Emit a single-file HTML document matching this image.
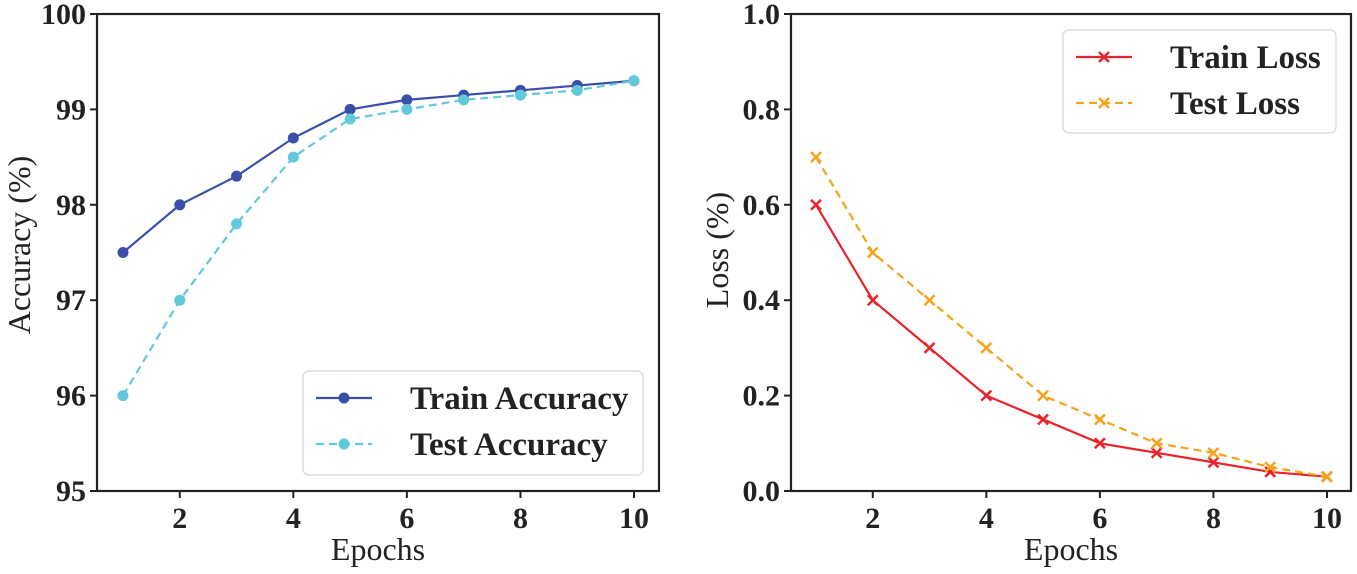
<!DOCTYPE html>
<html><head><meta charset="utf-8">
<style>
html,body{margin:0;padding:0;background:#fff;}
svg text{font-family:"Liberation Serif",serif;fill:#222;}
</style></head>
<body>
<svg id="chart" width="1357" height="569" viewBox="0 0 1357 569" xmlns="http://www.w3.org/2000/svg"></svg>
<script>
const epochs = [1,2,3,4,5,6,7,8,9,10];
const trainAcc = [97.5,98,98.3,98.7,99,99.1,99.15,99.2,99.25,99.3];
const testAcc = [96,97,97.8,98.5,98.9,99,99.1,99.15,99.2,99.3];
const trainLoss = [0.6,0.4,0.3,0.2,0.15,0.1,0.08,0.06,0.04,0.03];
const testLoss = [0.7,0.5,0.4,0.3,0.2,0.15,0.1,0.08,0.05,0.03];
const xTicks = [2,4,6,8,10];
const accTicks = [95,96,97,98,99,100];
const lossTicks = [0.0,0.2,0.4,0.6,0.8,1.0];

const svg = document.getElementById('chart');
const NS = 'http://www.w3.org/2000/svg';
function mk(tag, attrs, parent){
  const e = document.createElementNS(NS, tag);
  for (const k in attrs) e.setAttribute(k, attrs[k]);
  (parent||svg).appendChild(e);
  return e;
}
function panel(opt){
  const g = mk('g', {});
  
  
  const L=opt.left, R=opt.right, T=14, B=491;
  const xs = v => opt.x1 + (v-1)*(opt.x10-opt.x1)/9;
  const ys = v => B - (v-opt.ymin)/(opt.ymax-opt.ymin)*(B-T);
  xTicks.forEach(t=>{
    mk('line',{x1:xs(t),x2:xs(t),y1:B,y2:B+7,stroke:'#222','stroke-width':2},g);
    const tx = mk('text',{x:xs(t),y:B+37,'text-anchor':'middle','font-size':30,'font-weight':'bold'},g);
    tx.textContent = t;
    
    
  });
  opt.yticks.forEach(t=>{
    mk('line',{x1:L-7,x2:L,y1:ys(t),y2:ys(t),stroke:'#222','stroke-width':2},g);
    const tx = mk('text',{x:L-11,y:ys(t)+10,'text-anchor':'end','font-size':30,'font-weight':'bold'},g);
    tx.textContent = opt.fmt(t);
    
    
  });
  opt.series.forEach(s=>{
    const sg = mk('g',{},g);
    
    
    const pts = epochs.map((e,i)=>xs(e)+','+ys(s.data[i])).join(' ');
    mk('polyline',{points:pts,fill:'none',stroke:s.color,'stroke-width':2.2,'stroke-dasharray':s.dash||'none'},sg);
    epochs.forEach((e,i)=>{
      const cx=xs(e), cy=ys(s.data[i]);
      if (s.marker==='o') mk('circle',{cx,cy,r:5.5,fill:s.color},sg);
      else { mk('path',{d:`M${cx-5},${cy-5}L${cx+5},${cy+5}M${cx-5},${cy+5}L${cx+5},${cy-5}`,stroke:s.color,'stroke-width':2.5},sg); }
    });
  });
  mk('rect',{x:L,y:T,width:R-L,height:B-T,fill:'none',stroke:'#222','stroke-width':2.2},g);
  const xl = mk('text',{x:(L+R)/2,y:560,'text-anchor':'middle','font-size':32},g);
  xl.textContent='Epochs';
  
  
  const yl = mk('text',{x:0,y:0,'text-anchor':'middle','font-size':32,transform:`translate(${opt.ylabX},${opt.ylabY}) rotate(-90)`},g);
  yl.textContent=opt.ylabel;
  
  
  const lg = mk('g',{},g);
  
  
  const lb=opt.legend;
  mk('rect',{x:lb.x,y:lb.y,width:lb.w,height:lb.h,rx:6,fill:'#fff',stroke:'#ddd','stroke-width':1.5},lg);
  opt.series.forEach((s,i)=>{
    const y = lb.y+27+i*46;
    const x0 = lb.x+13;
    mk('line',{x1:x0,x2:x0+56,y1:y,y2:y,stroke:s.color,'stroke-width':2.2,'stroke-dasharray':s.dash||'none'},lg);
    const cx=x0+28;
    if (s.marker==='o') mk('circle',{cx,cy:y,r:5.5,fill:s.color},lg);
    else mk('path',{d:`M${cx-5},${y-5}L${cx+5},${y+5}M${cx-5},${y+5}L${cx+5},${y-5}`,stroke:s.color,'stroke-width':2.5},lg);
    const t = mk('text',{x:x0+94,y:y+11,'font-size':33,'font-weight':'bold'},lg);
    t.textContent=s.label;
    
    
  });
}
panel({name:'accuracy-panel',left:97,right:659,x1:123,x10:634,ymin:95,ymax:100,yticks:accTicks,fmt:v=>String(v),
  ylabel:'Accuracy (%)',ylabX:30,ylabY:245,legend:{x:303,y:371,w:340,h:104},
  series:[{name:'train-accuracy-series',label:'Train Accuracy',data:trainAcc,color:'#3a50a8',marker:'o'},
          {name:'test-accuracy-series',label:'Test Accuracy',data:testAcc,color:'#62c8dc',marker:'o',dash:'8 5'}]});
panel({name:'loss-panel',left:791,right:1351,x1:816,x10:1327,ymin:0,ymax:1,yticks:lossTicks,fmt:v=>v.toFixed(1),
  ylabel:'Loss (%)',ylabX:728,ylabY:250,legend:{x:1063,y:30,w:273,h:103},
  series:[{name:'train-loss-series',label:'Train Loss',data:trainLoss,color:'#e8232a',marker:'x'},
          {name:'test-loss-series',label:'Test Loss',data:testLoss,color:'#f6a31c',marker:'x',dash:'8 5'}]});
</script>
</body></html>
